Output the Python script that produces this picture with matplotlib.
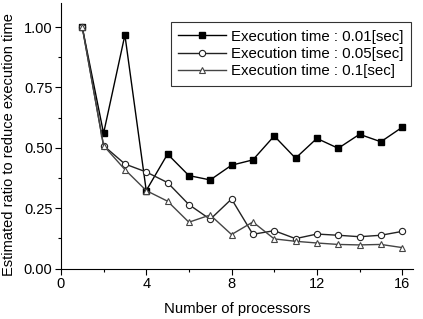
import numpy as np
import matplotlib
matplotlib.use('Agg')
import matplotlib.pyplot as plt
from matplotlib.ticker import MultipleLocator, FormatStrFormatter

plt.rcParams['font.family'] = ['Liberation Sans', 'DejaVu Sans']

processors = list(range(1, 17))
t_001 = [1.00, 0.56, 0.967, 0.323, 0.474, 0.385, 0.367, 0.428,
         0.45, 0.549, 0.457, 0.539, 0.498, 0.556, 0.525, 0.585]
t_005 = [1.00, 0.509, 0.433, 0.40, 0.356, 0.265, 0.204, 0.288,
         0.142, 0.157, 0.124, 0.143, 0.138, 0.132, 0.138, 0.154]
t_01 = [1.00, 0.509, 0.41, 0.323, 0.279, 0.192, 0.222, 0.141,
        0.193, 0.123, 0.113, 0.106, 0.10, 0.098, 0.10, 0.087]

labels = ['Execution time : 0.01[sec]',
          'Execution time : 0.05[sec]',
          'Execution time : 0.1[sec]']

fig = plt.figure(figsize=(4.23, 3.19), dpi=100)
ax = fig.add_axes([0.144, 0.158, 0.832, 0.833])

ax.plot(processors, t_001, '-s', color='black', lw=1.0, ms=4,
        mfc='black', mec='black', label=labels[0])
ax.plot(processors, t_005, '-o', color='#222222', lw=1.0, ms=4.5,
        mfc='white', mec='#222222', mew=0.8, label=labels[1])
ax.plot(processors, t_01, '-^', color='#444444', lw=1.0, ms=4.8,
        mfc='white', mec='#444444', mew=0.8, label=labels[2])

ax.set_xlim(0, 16.5)
ax.set_ylim(0, 1.1)
ax.xaxis.set_major_locator(MultipleLocator(4))
ax.xaxis.set_minor_locator(MultipleLocator(2))
ax.yaxis.set_major_locator(MultipleLocator(0.25))
ax.yaxis.set_minor_locator(MultipleLocator(0.125))
ax.yaxis.set_major_formatter(FormatStrFormatter('%.2f'))
ax.tick_params(which='major', direction='out', length=4, width=0.8,
               labelsize=10.5, pad=2)
ax.tick_params(which='minor', direction='out', length=2.5, width=0.8)

ax.spines['top'].set_visible(False)
ax.spines['right'].set_visible(False)

ax.set_xlabel('Number of processors', fontsize=10.7, labelpad=8)
ax.set_ylabel('Estimated ratio to reduce execution time', fontsize=10.5)
ax.yaxis.set_label_coords(-0.128, 0.465)

leg = ax.legend(loc='upper right', bbox_to_anchor=(0.994, 0.928),
                fontsize=10.8, frameon=True, fancybox=False,
                edgecolor='black', handlelength=3.2, labelspacing=0.22,
                borderpad=0.5, handletextpad=0.3, borderaxespad=0)
leg.get_frame().set_linewidth(0.8)

fig.savefig('out.png', dpi=100)
